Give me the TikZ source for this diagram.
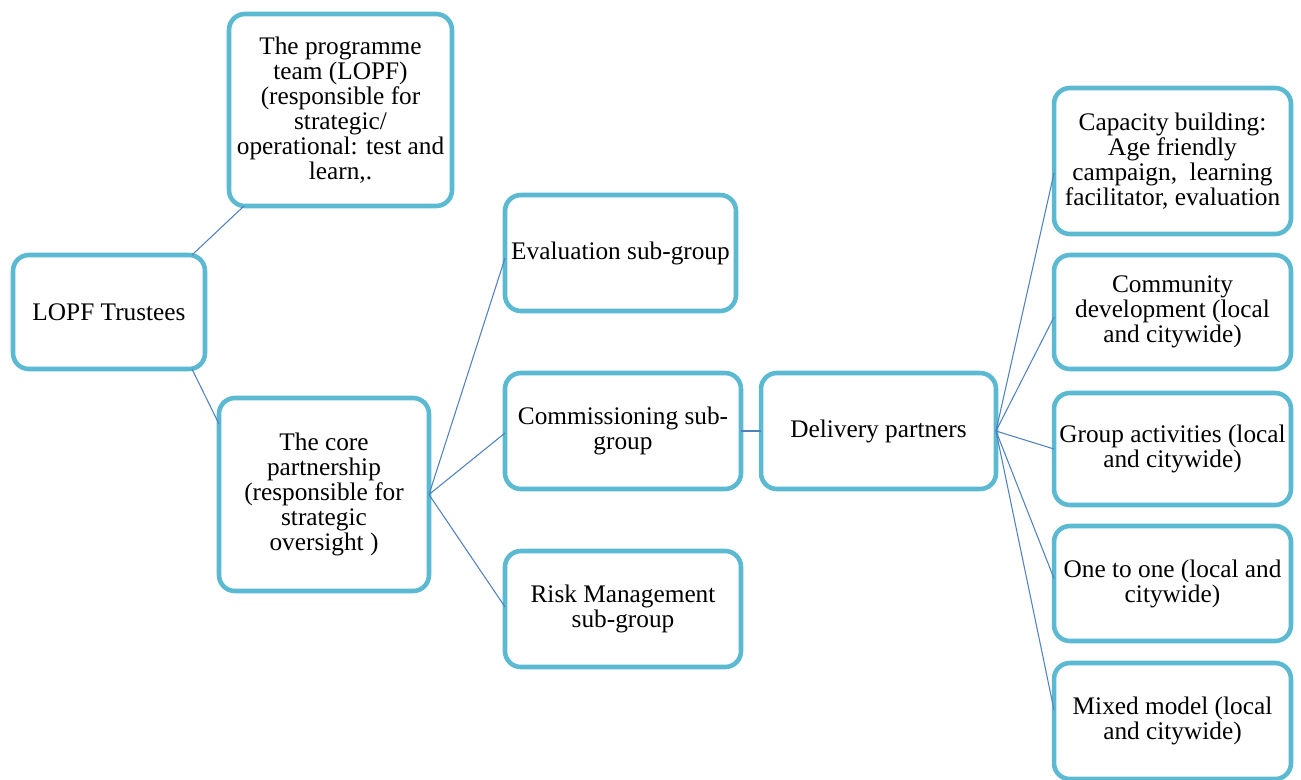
\documentclass[tikz,border=0pt]{standalone}
\usepackage{fontspec}
\setmainfont{Liberation Serif}
\definecolor{boxblue}{RGB}{91,186,209}
\definecolor{linkblue}{RGB}{79,129,189}
\begin{document}
\begin{tikzpicture}[x=0.02cm,y=-0.02cm,
    box/.style={draw=boxblue,line width=2.6pt,rounded corners=9pt,fill=white,
        inner sep=0pt,outer sep=0pt,align=center,
        font=\fontsize{14.4}{14.2}\selectfont},
    link/.style={draw=linkblue,line width=0.6pt}]
    \useasboundingbox (0,0) rectangle (1301,779);
    % left side
    \node[box,minimum width=3.84cm,minimum height=2.28cm] (trust) at (109,312) {LOPF Trustees};
    \node[box,minimum width=4.46cm,minimum height=3.84cm] (prog) at (340.5,110)
        {The programme\\team (LOPF)\\(responsible for\\strategic/\\operational: test and\\learn,.};
    \node[box,minimum width=4.2cm,minimum height=3.86cm] (core) at (324,494.5)
        {The core\\partnership\\(responsible for\\strategic\\oversight )};
    % sub-groups
    \node[box,minimum width=4.62cm,minimum height=2.32cm] (eval) at (620.5,253) {Evaluation sub-group};
    \node[box,minimum width=4.72cm,minimum height=2.32cm] (comm) at (623,431) {Commissioning sub-\\group};
    \node[box,minimum width=4.72cm,minimum height=2.32cm] (risk) at (623,609) {Risk Management\\sub-group};
    \node[box,minimum width=4.7cm,minimum height=2.32cm] (deliv) at (878.5,431) {Delivery partners};
    % delivery strands
    \node[box,minimum width=4.74cm,minimum height=2.92cm] (cap) at (1172.5,161)
        {Capacity building:\\Age friendly\\campaign,\ \ learning\\facilitator, evaluation};
    \node[box,minimum width=4.74cm,minimum height=2.28cm] (comd) at (1172.5,312)
        {Community\\development (local\\and citywide)};
    \node[box,minimum width=4.74cm,minimum height=2.24cm] (grp) at (1172.5,449)
        {Group activities (local\\and citywide)};
    \node[box,minimum width=4.74cm,minimum height=2.3cm] (one) at (1172.5,583.5)
        {One to one (local and\\citywide)};
    \node[box,minimum width=4.74cm,minimum height=2.32cm] (mix) at (1172.5,721)
        {Mixed model (local\\and citywide)};
    % connectors
    \draw[link] ([xshift=-0.26cm]trust.north east) -- ([xshift=0.3cm]prog.south west);
    \draw[link] ([xshift=-0.26cm]trust.south east) -- ([yshift=-0.52cm]core.north west);
    \draw[link] (core.east) -- ([yshift=-0.1cm]eval.west);
    \draw[link] (core.east) -- ([yshift=-0.04cm]comm.west);
    \draw[link] (core.east) -- ([yshift=0.04cm]risk.west);
    \draw[link] (comm.east) -- (deliv.west);
    \draw[link] (deliv.east) -- ([yshift=-0.24cm]cap.west);
    \draw[link] (deliv.east) -- ([yshift=-0.1cm]comd.west);
    \draw[link] (deliv.east) -- (grp.west);
    \draw[link] (deliv.east) -- ([yshift=0.1cm]one.west);
    \draw[link] (deliv.east) -- ([yshift=0.22cm]mix.west);
\end{tikzpicture}
\end{document}
